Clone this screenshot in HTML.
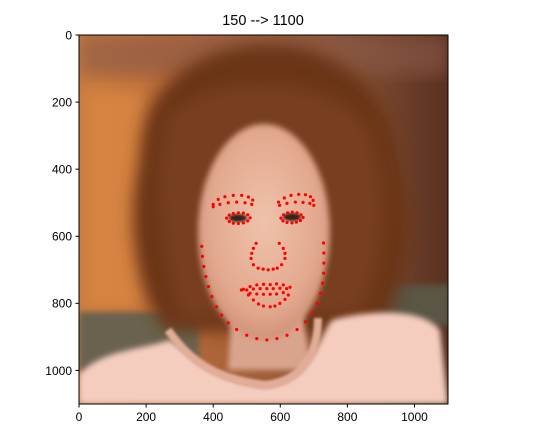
<!DOCTYPE html>
<html><head><meta charset="utf-8"><style>
body{margin:0;background:#fff;}
svg{display:block;font-family:"Liberation Sans","DejaVu Sans",sans-serif;}
</style></head><body>
<svg id="chart" width="557" height="446" viewBox="0 0 557 446" xmlns="http://www.w3.org/2000/svg">
<defs>
<clipPath id="clip"><rect x="79" y="35" width="369" height="369"/></clipPath>
<filter id="b8" x="-20%" y="-20%" width="140%" height="140%"><feGaussianBlur stdDeviation="8"/></filter>
<filter id="b3" x="-20%" y="-20%" width="140%" height="140%"><feGaussianBlur stdDeviation="3"/></filter>
<filter id="b1"><feGaussianBlur stdDeviation="1.2"/></filter>
<linearGradient id="bgG" x1="0" x2="1" y1="0" y2="0">
<stop offset="0" stop-color="#c77a3e"/><stop offset="0.25" stop-color="#b86a38"/><stop offset="0.7" stop-color="#8a5538"/><stop offset="1" stop-color="#5a3020"/></linearGradient>
<radialGradient id="faceG" cx="0.5" cy="0.45" r="0.6"><stop offset="0" stop-color="#efc2ab"/><stop offset="0.7" stop-color="#e2a88e"/><stop offset="1" stop-color="#c98a6e"/></radialGradient>
</defs>
<text x="263" y="25" font-size="14.5" text-anchor="middle" fill="#000">150 --&gt; 1100</text>
<g id="photo" clip-path="url(#clip)">
<rect x="79" y="35" width="369" height="369" fill="url(#bgG)"/>
<rect x="79" y="35" width="369" height="40" fill="#8a5a48" opacity="0.6" filter="url(#b8)"/>
<rect x="85" y="90" width="60" height="220" fill="#e08a45" opacity="0.7" filter="url(#b8)"/>
<rect x="79" y="312" width="120" height="60" fill="#6a6250" filter="url(#b3)"/>
<rect x="380" y="285" width="70" height="40" fill="#5a5444" filter="url(#b3)"/>
<path d="M140 160 C140 70 220 40 280 45 C350 50 395 100 400 170 C420 240 400 300 375 335 L165 330 C135 290 125 220 140 160 Z" fill="#6a3418" filter="url(#b8)"/>
<path d="M165 120 C200 70 330 65 370 130 C392 190 388 260 360 315 L180 320 C160 260 150 175 165 120 Z" fill="#7a4020" opacity="0.85" filter="url(#b8)"/>
<path d="M232 300 L300 300 L312 370 L228 370 Z" fill="#d9a48e" filter="url(#b3)"/>
<ellipse cx="264" cy="232" rx="66" ry="108" fill="url(#faceG)" filter="url(#b3)"/>
<ellipse cx="238" cy="218" rx="9" ry="4" fill="#3a2218" filter="url(#b1)"/>
<ellipse cx="292" cy="217" rx="9" ry="4" fill="#3a2218" filter="url(#b1)"/>
<path d="M79 375 C100 350 140 350 170 340 C200 360 220 383 265 386 C310 383 320 335 332 320 C360 312 420 305 440 330 L448 404 L79 404 Z" fill="#f4cdbf" filter="url(#b3)"/>
<path d="M168 330 C190 360 210 378 265 385 C312 380 318 340 318 318" fill="none" stroke="#e2ad98" stroke-width="8" filter="url(#b1)"/>
</g>
<rect x="79" y="35" width="369" height="369" fill="none" stroke="#000" stroke-width="1"/>
<g id="xaxis"></g>
<g id="yaxis"></g>
<g id="marks"></g>
<script>
const xTicks=[0,200,400,600,800,1000];
const yTicks=[0,200,400,600,800,1000];
const jawX=[366,368,372,378,386,396,410,425,445,470,500,530,560,590,620,650,675,695,710,720,726,729,730,730,729];
const jawY=[630,660,690,720,750,780,810,835,858,878,895,905,909,905,895,878,855,828,800,770,740,710,680,650,620];
const browX=[400,415,435,460,485,505,518,400,420,445,470,495,515,595,612,632,655,675,690,698,598,620,645,668,688,700];
const browY=[505,490,482,478,478,483,492,512,505,500,498,500,505,498,486,478,475,476,482,493,508,502,498,499,502,508];
const eyeX=[440,448,460,475,490,503,510,503,490,475,460,448,602,610,622,636,650,662,668,660,648,635,620,608];
const eyeY=[546,537,532,530,531,536,545,554,560,562,561,556,546,536,530,528,530,536,544,553,558,560,559,554];
const noseX=[528,597,520,515,513,520,534,549,564,579,591,604,614,614,609];
const noseY=[621,621,636,651,666,685,695,698,700,698,695,685,666,651,636];
const mouthX=[484,490,510,530,550,570,589,609,629,505,520,535,550,570,584,599,614,624,500,520,540,560,579,599,619,510,530,550,570,589,609];
const mouthY=[760,758,750,745,743,744,742,745,752,775,790,802,808,810,808,800,788,775,760,757,756,756,756,755,756,770,772,773,773,772,768];
const X0=79,W=369,Y0=35,H=369,DMAX=1100;
const sx=v=>X0+v/DMAX*W, sy=v=>Y0+v/DMAX*H;
const NS="http://www.w3.org/2000/svg";
const xa=document.getElementById('xaxis'), ya=document.getElementById('yaxis'), mk=document.getElementById('marks');
xTicks.forEach(t=>{
 const l=document.createElementNS(NS,'line');
 
 
 l.setAttribute('x1',sx(t));l.setAttribute('x2',sx(t));l.setAttribute('y1',404);l.setAttribute('y2',407.5);l.setAttribute('stroke','#000');
 xa.appendChild(l);
 const tx=document.createElementNS(NS,'text');
 
 
 tx.setAttribute('x',sx(t));tx.setAttribute('y',421);tx.setAttribute('font-size','12');tx.setAttribute('text-anchor','middle');
 tx.textContent=t;xa.appendChild(tx);
});
yTicks.forEach(t=>{
 const l=document.createElementNS(NS,'line');
 
 
 l.setAttribute('x1',75.5);l.setAttribute('x2',79);l.setAttribute('y1',sy(t));l.setAttribute('y2',sy(t));l.setAttribute('stroke','#000');
 ya.appendChild(l);
 const tx=document.createElementNS(NS,'text');
 
 
 tx.setAttribute('x',72);tx.setAttribute('y',sy(t)+4.3);tx.setAttribute('font-size','12');tx.setAttribute('text-anchor','end');
 tx.textContent=t;ya.appendChild(tx);
});
function pts(xs,ys,name){
 xs.forEach((x,i)=>{
  const c=document.createElementNS(NS,'circle');
  
  
  c.setAttribute('cx',sx(x));c.setAttribute('cy',sy(ys[i]));c.setAttribute('r',1.6);c.setAttribute('fill','#ff0000');
  mk.appendChild(c);
 });
}
pts(jawX,jawY,'jaw-point');pts(browX,browY,'brow-point');pts(eyeX,eyeY,'eye-point');pts(noseX,noseY,'nose-point');pts(mouthX,mouthY,'mouth-point');
</script>
</svg>
</body></html>
